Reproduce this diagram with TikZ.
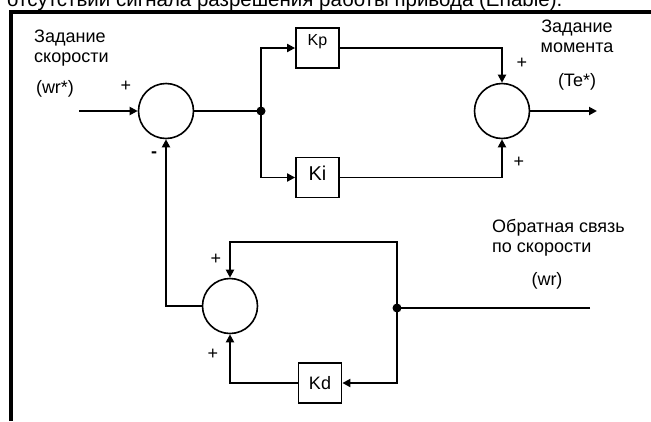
\documentclass[tikz,border=0pt]{standalone}
\usepackage{fontspec}
\setmainfont{Liberation Sans}
\usetikzlibrary{arrows.meta}
\begin{document}
\begin{tikzpicture}[x=1pt,y=-1pt,
  sumnode/.style={draw,circle,line width=1.6pt,minimum size=55pt,inner sep=0pt},
  gainbox/.style={draw,line width=1.8pt,minimum width=43pt,minimum height=40pt,inner sep=0pt},
  wire/.style={line width=1.9pt},
  sig/.style={wire,-{Triangle[length=8pt,width=8pt]}},
  lbl/.style={font=\fontsize{18}{20}\selectfont,inner sep=0pt},
  sgn/.style={font=\fontsize{18}{18}\selectfont,inner sep=0pt}]
\useasboundingbox (0,0) rectangle (651,421);
% frame
\draw[line width=4pt] (10.5,421) -- (10.5,11.5) -- (651,11.5);
\node[font=\fontsize{20.5}{22}\selectfont,inner sep=0pt,anchor=base west] (caption) at (7,6) {отсутствии сигнала разрешения работы привода (Enable).};
% summing junctions
\node[sumnode] (sum1) at (166,111) {};
\node[sumnode] (sum2) at (502,111) {};
\node[sumnode] (sum3) at (230,306) {};
% gains
\node[gainbox,font=\fontsize{16}{16}\selectfont,text height=11pt,text depth=16pt] (kp) at (317.5,48) {Kp};
\node[gainbox,font=\fontsize{20}{20}\selectfont,text height=14pt,text depth=8pt] (ki) at (317.5,177.5) {Ki};
\node[gainbox,font=\fontsize{18}{18}\selectfont,text height=13pt,text depth=0pt] (kd) at (320,383) {Kd};
% branch points
\coordinate (in) at (79,111);
\coordinate (out) at (597,111);
\coordinate (j1) at (261,111);
\coordinate (j2) at (397,308);
\coordinate (fbtop) at (397,242);
\coordinate (fbin) at (590,308);
% connectors
\draw[sig] (in) -- (sum1);
\draw[wire] (sum1) -- (j1);
\draw[sig] (j1) |- (kp);
\draw[sig] (j1) |- (ki);
\draw[sig] (kp) -| (sum2);
\draw[sig] (ki) -| (sum2);
\draw[sig] (sum2) -- (out);
\draw[sig] (sum3) -| (sum1);
\draw[wire] (fbin) -- (j2);
\draw[sig] (j2) -- (fbtop) -| (sum3);
\draw[sig] (j2) |- (kd);
\draw[sig] (kd) -| (sum3);
\fill (j1) circle (4.5);
\fill (j2) circle (4.5);
% signs
\node[sgn] (p1) at (126,86) {+};
\node[sgn,font=\bfseries\fontsize{18}{18}\selectfont] (m1) at (154,155) {-};
\node[sgn] (p2) at (522,63) {+};
\node[sgn] (p3) at (519,162) {+};
\node[sgn] (p4) at (216,259) {+};
\node[sgn] (p5) at (213,354) {+};
% labels
\node[lbl,anchor=base west,align=left] (refname) at (34,62) {Задание\\скорости};
\node[lbl] (refsym) at (55,89) {(wr*)};
\node[lbl,anchor=base,align=center] (outname) at (577,52) {Задание\\момента};
\node[lbl] (outsym) at (577,82) {(Te*)};
\node[lbl,anchor=base west,align=left] (fbname) at (492,252) {Обратная связь\\по скорости};
\node[lbl] (fbsym) at (547,281) {(wr)};
\end{tikzpicture}
\end{document}
